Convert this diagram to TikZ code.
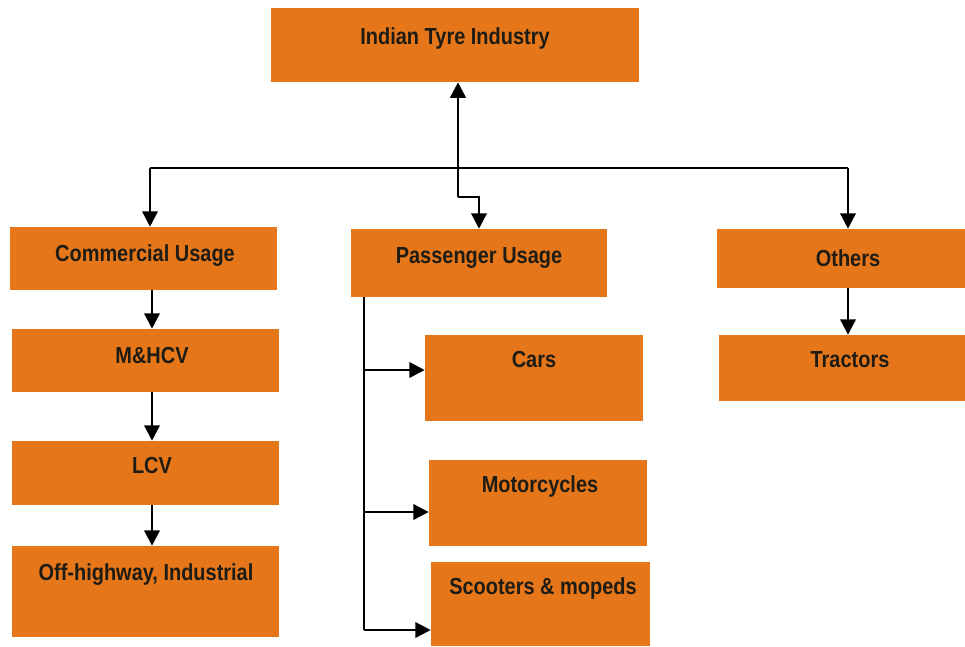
\documentclass[tikz,border=0pt]{standalone}
\usepackage{fontspec}
\setmainfont{Liberation Sans}[FakeStretch=0.86]
\usetikzlibrary{arrows.meta}
\definecolor{tyreorange}{RGB}{229,119,26}
\definecolor{inkdark}{RGB}{30,28,20}
\begin{document}
\begin{tikzpicture}[x=0.025cm,y=-0.025cm,
  box/.style={fill=tyreorange,inner sep=0pt},
  lbl/.style={text=inkdark,font=\fontsize{16.5}{19}\selectfont\bfseries},
  arr/.style={line width=1.8pt,-{Triangle[length=11pt,width=11pt]}},
  wire/.style={line width=1.8pt}]
% Parameters
\def\px{0.025cm}
\useasboundingbox (0,0) rectangle (965,646);

% Boxes
\node[box,minimum width=368*\px,minimum height=74*\px] (top) at (455,45) {};
\node[box,minimum width=267*\px,minimum height=63*\px] (comm) at (143.5,258.5) {};
\node[box,minimum width=256*\px,minimum height=68*\px] (pass) at (479,263) {};
\node[box,minimum width=248*\px,minimum height=59*\px] (others) at (841,258.5) {};
\node[box,minimum width=267*\px,minimum height=63*\px] (mhcv) at (145.5,360.5) {};
\node[box,minimum width=267*\px,minimum height=64*\px] (lcv) at (145.5,473) {};
\node[box,minimum width=267*\px,minimum height=91*\px] (offhw) at (145.5,591.5) {};
\node[box,minimum width=218*\px,minimum height=86*\px] (cars) at (534,378) {};
\node[box,minimum width=218*\px,minimum height=86*\px] (moto) at (538,503) {};
\node[box,minimum width=219*\px,minimum height=84*\px] (scoot) at (540.5,604) {};
\node[box,minimum width=246*\px,minimum height=66*\px] (tract) at (842,368) {};

% Texts
\node[lbl] (topT) at (455,38) {Indian Tyre Industry};
\node[lbl] (commT) at (145,256) {Commercial Usage};
\node[lbl] (passT) at (479,258) {Passenger Usage};
\node[lbl] (othersT) at (848,258) {Others};
\node[lbl] (mhcvT) at (152,356) {M\&HCV};
\node[lbl] (lcvT) at (152,466) {LCV};
\node[lbl] (offhwT) at (146,575) {Off-highway, Industrial};
\node[lbl] (carsT) at (534,360) {Cars};
\node[lbl] (motoT) at (540,486) {Motorcycles};
\node[lbl] (scootT) at (543,588) {Scooters \& mopeds};
\node[lbl] (tractT) at (850,360) {Tractors};

% Connectors
\coordinate (busL) at (150,168);
\coordinate (busR) at (848,168);
\coordinate (jog) at (458,197);
\coordinate (colL) at (152,0);
\coordinate (spine) at (364,0);
\coordinate (bCars) at (364,370);
\coordinate (bMoto) at (364,512);
\coordinate (bScoot) at (364,630);

\draw[arr] (jog) -- (jog |- top.south);
\draw[arr] (jog) -| (pass.north);
\draw[wire] (busL) -- (busR);
\draw[arr] (busL) -- (busL |- comm.north);
\draw[arr] (busR) -- (busR |- others.north);

\draw[arr] (colL |- comm.south) -- (colL |- mhcv.north);
\draw[arr] (colL |- mhcv.south) -- (colL |- lcv.north);
\draw[arr] (colL |- lcv.south) -- (colL |- offhw.north);
\draw[arr] (busR |- others.south) -- (busR |- tract.north);

\draw[wire] (spine |- pass.south) -- (bScoot);
\draw[arr] (bCars) -- (bCars -| cars.west);
\draw[arr] (bMoto) -- (bMoto -| moto.west);
\draw[arr] (bScoot) -- (bScoot -| scoot.west);

\end{tikzpicture}
\end{document}
